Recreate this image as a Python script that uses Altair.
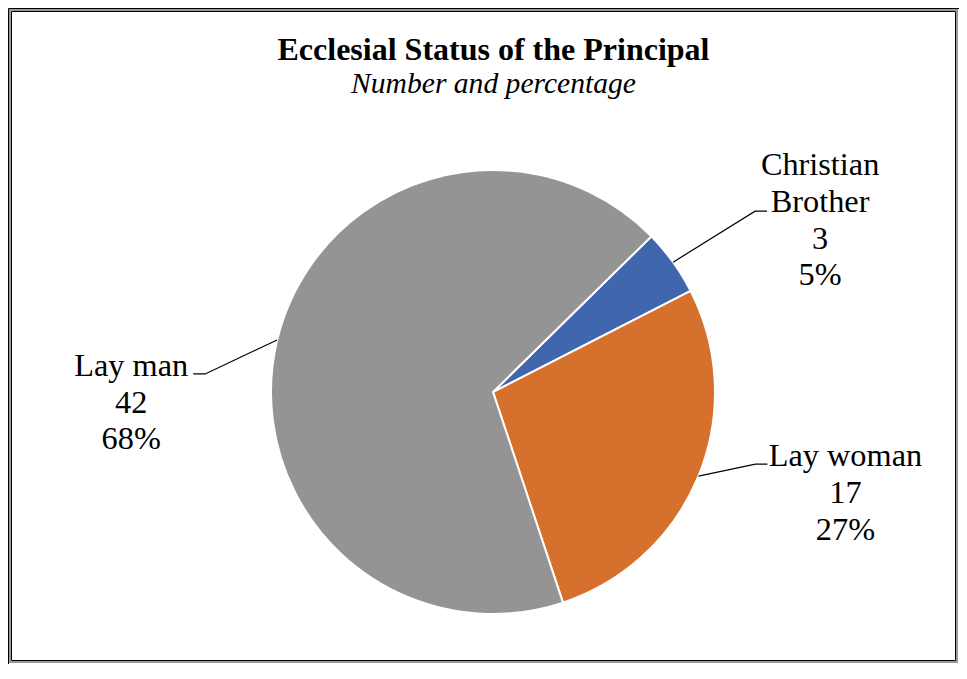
import math
import pandas as pd
import altair as alt

# ---------------- data ----------------
categories = ["Christian Brother", "Lay woman", "Lay man"]
counts = [3, 17, 42]
label_names = [["Christian", "Brother"], ["Lay woman"], ["Lay man"]]
colors = ["#4066AE", "#D5712C", "#949494"]

TITLE = "Ecclesial Status of the Principal"
SUBTITLE = "Number and percentage"

# ---------------- layout ----------------
W, H = 951, 656
CX, CY, R = 485, 384, 222
START = math.radians(45.5)
ELBOW = {"Christian Brother": (82, -51), "Lay woman": (57, -12), "Lay man": (-72, 34)}
TAIL = 12
# offset of the first label line's centre from the leader elbow
LABEL_OFF = {"Christian Brother": (65, -46), "Lay woman": (90, -8), "Lay man": (-74, -8)}
FONT = "Liberation Serif"

total = sum(counts)
pie_rows, line_rows, label_rows = [], [], []
cum = 0
for i, (cat, c, names) in enumerate(zip(categories, counts, label_names)):
    pie_rows.append({"category": cat, "value": c, "idx": i})
    mid = START + 2 * math.pi * (cum + c / 2) / total
    cum += c
    ex, ey = CX + R * math.sin(mid), CY - R * math.cos(mid)
    bx, by = ex + ELBOW[cat][0], ey + ELBOW[cat][1]
    side = 1 if math.sin(mid) >= 0 else -1
    tx, ty = bx + side * TAIL, by
    for k, (px, py) in enumerate([(ex, ey), (bx, by), (tx, ty)]):
        line_rows.append({"category": cat, "x": px, "y": py, "ord": k})
    pct = round(100 * c / total)
    text = "\n".join(names + [str(c), f"{pct}%"])
    label_rows.append({"category": cat, "x": bx + LABEL_OFF[cat][0],
                       "y": by + LABEL_OFF[cat][1], "text": text})

pie_df = pd.DataFrame(pie_rows)
line_df = pd.DataFrame(line_rows)
label_df = pd.DataFrame(label_rows)

xs = alt.Scale(domain=[0, W], nice=False, zero=False)
ys = alt.Scale(domain=[0, H], nice=False, zero=False, reverse=True)

pie = alt.Chart(pie_df).mark_arc(outerRadius=R, stroke="white", strokeWidth=2).encode(
    theta=alt.Theta("value:Q", stack=True,
                    scale=alt.Scale(range=[START, START + 2 * math.pi])),
    color=alt.Color("category:N", scale=alt.Scale(domain=categories, range=colors),
                    legend=None),
    order=alt.Order("idx:Q"),
    x=alt.value(CX),
    y=alt.value(CY),
)

leaders = alt.Chart(line_df).mark_line(color="black", strokeWidth=1.2).encode(
    x=alt.X("x:Q", scale=xs, axis=None),
    y=alt.Y("y:Q", scale=ys, axis=None),
    detail="category:N",
    order="ord:Q",
)

labels = alt.Chart(label_df).mark_text(
    font=FONT, fontSize=32.3, lineBreak="\n", lineHeight=36.7,
    align="center", baseline="middle", color="black",
).encode(
    x=alt.X("x:Q", scale=xs, axis=None),
    y=alt.Y("y:Q", scale=ys, axis=None),
    text="text:N",
)

title_df = pd.DataFrame({"text": [TITLE]})
sub_df = pd.DataFrame({"text": [SUBTITLE]})
title = alt.Chart(title_df).mark_text(
    font=FONT, fontSize=32, fontWeight="bold", align="center", baseline="alphabetic",
    color="black",
).encode(x=alt.value(485.5), y=alt.value(51.5), text="text:N")
subtitle = alt.Chart(sub_df).mark_text(
    font=FONT, fontSize=29.6, fontStyle="italic", align="center", baseline="alphabetic",
    color="black",
).encode(x=alt.value(485.5), y=alt.value(85), text="text:N")

frame = alt.Chart(title_df).mark_rect(fill=None, stroke="#999999", strokeWidth=2).encode(
    x=alt.value(2), x2=alt.value(W - 2), y=alt.value(2), y2=alt.value(H - 2)
)
frame2 = alt.Chart(title_df).mark_rect(fill=None, stroke="#000000", strokeWidth=1).encode(
    x=alt.value(3.5), x2=alt.value(W - 3.5), y=alt.value(3.5), y2=alt.value(H - 3.5)
)

chart = alt.layer(frame, frame2, pie, leaders, labels, title, subtitle).properties(
    width=W, height=H, padding=0
).configure_view(stroke="#000000", strokeWidth=1)

chart.save("out.html", embed_options={"renderer": "svg", "actions": False})
